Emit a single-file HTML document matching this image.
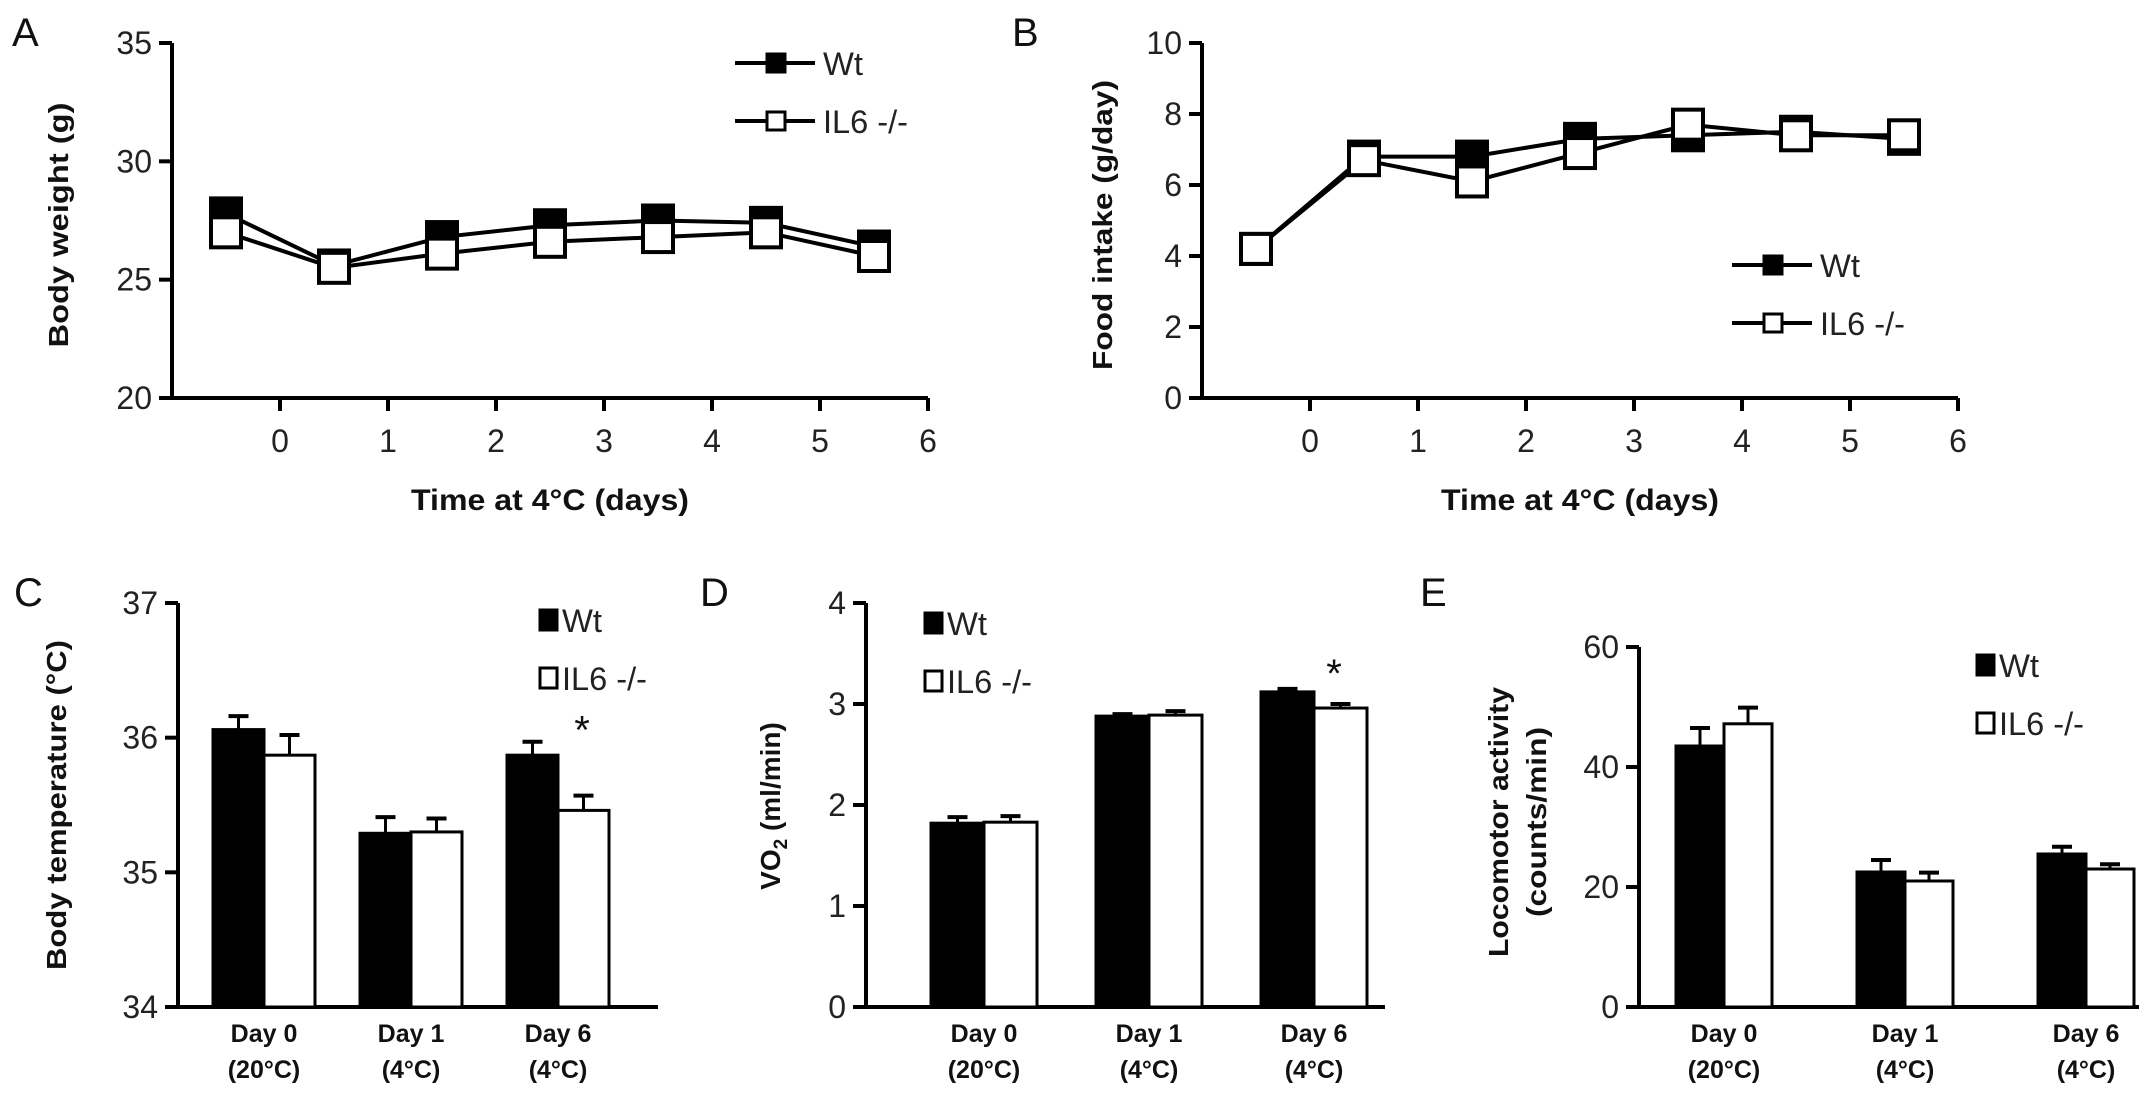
<!DOCTYPE html>
<html><head><meta charset="utf-8">
<style>
html,body{margin:0;padding:0;background:#fff;}
svg{display:block;font-family:"Liberation Sans",Arial,sans-serif;}
</style></head>
<body>
<svg id="fig" width="2150" height="1107" viewBox="0 0 2150 1107"></svg>
<script>
// ---- data ----
const daysX = [-0.5, 0.5, 1.5, 2.5, 3.5, 4.5, 5.5];
const xTicks = [0, 1, 2, 3, 4, 5, 6];
const bwWt = [27.8, 25.6, 26.8, 27.3, 27.5, 27.4, 26.4];
const bwIL6 = [27.0, 25.5, 26.1, 26.6, 26.8, 27.0, 26.0];
const bwTicks = [20, 25, 30, 35];
const fiWt = [4.2, 6.8, 6.8, 7.3, 7.4, 7.5, 7.3];
const fiIL6 = [4.2, 6.7, 6.1, 6.9, 7.7, 7.4, 7.4];
const fiTicks = [0, 2, 4, 6, 8, 10];
const barCats = ["Day 0", "Day 1", "Day 6"];
const barCats2 = ["(20°C)", "(4°C)", "(4°C)"];
const tempWt = [36.06, 35.29, 35.87];
const tempWtErr = [0.1, 0.12, 0.1];
const tempIL6 = [35.87, 35.3, 35.46];
const tempIL6Err = [0.15, 0.1, 0.11];
const tempTicks = [34, 35, 36, 37];
const tempStar = [false, false, true];
const voWt = [1.82, 2.88, 3.12];
const voWtErr = [0.06, 0.02, 0.03];
const voIL6 = [1.83, 2.89, 2.96];
const voIL6Err = [0.06, 0.04, 0.04];
const voTicks = [0, 1, 2, 3, 4];
const voStar = [false, false, true];
const locWt = [43.5, 22.5, 25.5];
const locWtErr = [3.0, 2.0, 1.2];
const locIL6 = [47.2, 21.0, 23.0];
const locIL6Err = [2.7, 1.4, 0.8];
const locTicks = [0, 20, 40, 60];
const locStar = [false, false, false];

const NS = "http://www.w3.org/2000/svg";
const fig = document.getElementById("fig");
function mk(tag, attrs, parent, text) {
  const e = document.createElementNS(NS, tag);
  for (const k in attrs) e.setAttribute(k, attrs[k]);
  if (text !== undefined) e.textContent = text;
  (parent || fig).appendChild(e);
  return e;
}
function lin(d0, d1, r0, r1) { return v => r0 + (v - d0) * (r1 - r0) / (d1 - d0); }

function yAxis(g, x, y, ticks, fs) {
  const ax = mk("line", {x1: x, y1: y(ticks[ticks.length-1]) , x2: x, y2: y(ticks[0]) + 2, stroke: "#000", "stroke-width": 4}, g);
  
  
  ticks.forEach(t => {
    const tk = mk("line", {x1: x - 13, y1: y(t), x2: x, y2: y(t), stroke: "#000", "stroke-width": 4}, g);
    
    
    const lb = mk("text", {x: x - 20, y: y(t) + 11, "text-anchor": "end", "font-size": fs || 32, fill: "#222"}, g, String(t));
    
    
  });
}
function yTitle(g, x, cy, lines, len) {
  lines.forEach((s, i) => {
    const t = mk("text", {x: 0, y: 0, transform: `translate(${x + i*38},${cy}) rotate(-90)`, "text-anchor": "middle", "font-size": 28, "font-weight": "bold", fill: "#111"}, g, s);
    if (len && len[i]) { t.setAttribute("textLength", len[i]); t.setAttribute("lengthAdjust", "spacingAndGlyphs"); }
    
    
  });
}
function panelLetter(x, y, s) {
  const t = mk("text", {x: x, y: y, "font-size": 40, fill: "#111"}, fig, s);
  
  
}

function lineChart(o) {
  const g = mk("g", {});
  
  
  const x = lin(-1, 6, o.x0, o.x0 + 7 * 108);
  const y = lin(o.ticks[0], o.ticks[o.ticks.length-1], 398, 43);
  yAxis(g, o.x0, y, o.ticks);
  const xa = mk("line", {x1: o.x0, y1: 398, x2: x(6), y2: 398, stroke: "#000", "stroke-width": 4}, g);
  
  
  xTicks.forEach(t => {
    const tk = mk("line", {x1: x(t), y1: 398, x2: x(t), y2: 411, stroke: "#000", "stroke-width": 4}, g);
    
    
    const lb = mk("text", {x: x(t), y: 452, "text-anchor": "middle", "font-size": 32, fill: "#222"}, g, String(t));
    
    
  });
  const xt = mk("text", {x: x(2.5), y: 510, "text-anchor": "middle", "font-size": 30, "font-weight": "bold", fill: "#111", textLength: 278, lengthAdjust: "spacingAndGlyphs"}, g, "Time at 4°C (days)");
  
  
  yTitle(g, o.titleX, 225, [o.title], [o.titleLen]);
  [[o.wt, "#000", "wt"], [o.il6, "#fff", "il6"]].forEach(([vals, fill, key]) => {
    const pts = daysX.map((d, i) => x(d) + "," + y(vals[i])).join(" ");
    const pl = mk("polyline", {points: pts, fill: "none", stroke: "#000", "stroke-width": 4}, g);
    
    
  });
  [[o.wt, "#000", "wt"], [o.il6, "#fff", "il6"]].forEach(([vals, fill, key]) => {
    daysX.forEach((d, i) => {
      const r = mk("rect", {x: x(d) - 15, y: y(vals[i]) - 15, width: 30, height: 30, fill: fill, stroke: "#000", "stroke-width": 4}, g);
      
      
    });
  });
  [["Wt", "#000", o.legY], ["IL6 -/-", "#fff", o.legY + 58]].forEach(([s, fill, ly]) => {
    const lg = mk("g", {}, g);
    
    
    mk("line", {x1: o.legX, y1: ly, x2: o.legX + 80, y2: ly, stroke: "#000", "stroke-width": 4}, lg);
    mk("rect", {x: o.legX + 32, y: ly - 9, width: 18, height: 18, fill: fill, stroke: "#000", "stroke-width": 3}, lg);
    mk("text", {x: o.legX + 88, y: ly + 12, "font-size": 32, fill: "#222", textLength: s === "Wt" ? 40 : 85, lengthAdjust: "spacingAndGlyphs"}, lg, s);
  });
}

function barChart(o) {
  const g = mk("g", {});
  
  
  const y = lin(o.ticks[0], o.ticks[o.ticks.length-1], 1007, o.top);
  yAxis(g, o.x0, y, o.ticks);
  const xa = mk("line", {x1: o.x0, y1: 1007, x2: o.xEnd, y2: 1007, stroke: "#000", "stroke-width": 4}, g);
  
  
  const cx = i => o.c0 + i * o.step;
  const bw = o.bw;
  barCats.forEach((c, i) => {
    [[o.wt, o.wtErr, "#000", -1, "wt"], [o.il6, o.il6Err, "#fff", 0, "il6"]].forEach(([v, e, fill, off, key]) => {
      const bx = cx(i) + off * bw;
      const ey = y(v[i] + e[i]);
      const el = mk("line", {x1: bx + bw/2, y1: y(v[i]), x2: bx + bw/2, y2: ey, stroke: "#000", "stroke-width": 3}, g);
      
      
      const cap = mk("line", {x1: bx + bw/2 - 10, y1: ey, x2: bx + bw/2 + 10, y2: ey, stroke: "#000", "stroke-width": 4}, g);
      
      
      const r = mk("rect", {x: bx, y: y(v[i]), width: bw, height: 1007 - y(v[i]), fill: fill, stroke: "#000", "stroke-width": 3}, g);
      
      
    });
    if (o.star[i]) {
      const st = mk("text", {x: cx(i) + o.starDx, y: y(Math.max(o.wt[i] + o.wtErr[i], o.il6[i] + o.il6Err[i])) + o.starDy, "text-anchor": "middle", "font-size": 40, fill: "#111"}, g, "*");
      
      
    }
    const l1 = mk("text", {x: cx(i), y: 1042, "text-anchor": "middle", "font-size": 25, "font-weight": "bold", fill: "#111"}, g, c);
    
    
    const l2 = mk("text", {x: cx(i), y: 1078, "text-anchor": "middle", "font-size": 25, "font-weight": "bold", fill: "#111"}, g, barCats2[i]);
    
    
  });
  yTitle(g, o.titleX, o.titleY, o.title, o.titleLen);
  [["Wt", "#000", o.legY], ["IL6 -/-", "#fff", o.legY + 58]].forEach(([s, fill, ly]) => {
    const lg = mk("g", {}, g);
    
    
    mk("rect", {x: o.legX, y: ly - 10, width: 17, height: 20, fill: fill, stroke: "#000", "stroke-width": 3}, lg);
    mk("text", {x: o.legX + 22, y: ly + 12, "font-size": 32, fill: "#222", textLength: s === "Wt" ? 40 : 85, lengthAdjust: "spacingAndGlyphs"}, lg, s);
  });
}

panelLetter(12, 46, "A");
panelLetter(1012, 46, "B");
panelLetter(14, 606, "C");
panelLetter(700, 606, "D");
panelLetter(1420, 606, "E");

lineChart({name: "chart-a-body-weight", x0: 172, ticks: bwTicks, wt: bwWt, il6: bwIL6, title: "Body weight (g)", titleX: 68, titleLen: 245, legX: 735, legY: 63});
lineChart({name: "chart-b-food-intake", x0: 1202, ticks: fiTicks, wt: fiWt, il6: fiIL6, title: "Food intake (g/day)", titleX: 1112, titleLen: 290, legX: 1732, legY: 265});

barChart({name: "chart-c-body-temperature", x0: 178, xEnd: 658, top: 603, ticks: tempTicks, c0: 264, step: 147, bw: 51,
  wt: tempWt, wtErr: tempWtErr, il6: tempIL6, il6Err: tempIL6Err, star: tempStar, starDx: 24, starDy: 2,
  title: ["Body temperature (°C)"], titleX: 66, titleY: 805, titleLen: [330], legX: 540, legY: 620});
barChart({name: "chart-d-vo2", x0: 866, xEnd: 1385, top: 603, ticks: voTicks, c0: 984, step: 165, bw: 53,
  wt: voWt, wtErr: voWtErr, il6: voIL6, il6Err: voIL6Err, star: voStar, starDx: 20, starDy: -2,
  title: [], titleX: 780, titleY: 805, titleLen: [], legX: 925, legY: 623});
barChart({name: "chart-e-locomotor", x0: 1639, xEnd: 2139, top: 647, ticks: locTicks, c0: 1724, step: 181, bw: 48,
  wt: locWt, wtErr: locWtErr, il6: locIL6, il6Err: locIL6Err, star: locStar, starDx: 0, starDy: 0,
  title: ["Locomotor activity", "(counts/min)"], titleX: 1508, titleY: 822, titleLen: [270, 190], legX: 1977, legY: 665});

// VO2 title with subscript
const vt = mk("text", {x: 0, y: 0, transform: "translate(780,806) rotate(-90)", "text-anchor": "middle", "font-size": 28, "font-weight": "bold", fill: "#111"});


vt.innerHTML = 'VO<tspan font-size="19" dy="7">2</tspan><tspan dy="-7"> (ml/min)</tspan>';
</script>
</body></html>
